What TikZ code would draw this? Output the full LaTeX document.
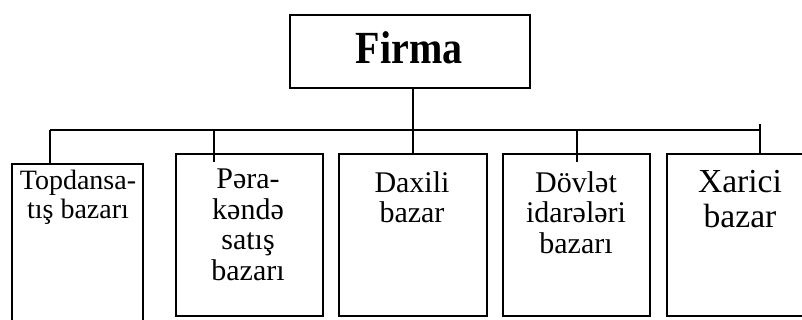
\documentclass[tikz,border=0pt]{standalone}
\usepackage{fontspec}
\setmainfont{Liberation Serif}
\usepackage{tikz}
\usetikzlibrary{positioning}
\tikzset{
  box/.style={draw=black, line width=1.6pt, inner sep=0pt, anchor=north west},
  link/.style={draw=black, line width=1.6pt},
  lab/.style={align=center, inner sep=0pt, anchor=north},
  labs/.style={lab, font=\fontsize{30}{30.5}\selectfont}
}

\begin{document}
\begin{tikzpicture}[x=1pt,y=-1pt]
  \useasboundingbox (0,0) rectangle (802,320);
  \clip (0,0) rectangle (802,320);

  % top box
  \node[box, minimum width=240pt, minimum height=73pt] (firma) at (289,14) {};
  \node[lab, anchor=base, font=\fontsize{40}{40}\selectfont\bfseries] (firmaT) at (409,64)
    {\scalebox{1}[1.15]{Firma}};

  % market boxes
  \node[box, minimum width=131pt, minimum height=180pt] (topdan) at (11,163) {};
  \node[box, minimum width=147pt, minimum height=162pt] (perakende) at (175,153) {};
  \node[box, minimum width=148pt, minimum height=162pt] (daxili) at (338,153) {};
  \node[box, minimum width=147pt, minimum height=162pt] (dovlet) at (502,153) {};
  \node[box, minimum width=148pt, minimum height=162pt] (xarici) at (666,153) {};

  \node[lab, font=\fontsize{28}{29}\selectfont] (topdanT) at (78,170) {Topdansa-\\tış bazarı};
  \node[labs] (perakendeT) at (248,169) {Pəra-\\kəndə\\satış\\bazarı};
  \node[labs] (daxiliT) at (412,171) {Daxili\\bazar};
  \node[labs] (dovletT) at (576,171) {Dövlət\\idarələri\\bazarı};
  \node[lab, font=\fontsize{33.6}{35}\selectfont] (xariciT) at (740,170) {Xarici\\bazar};

  % connectors
  \coordinate (busL) at (50,130);
  \coordinate (busR) at (760,130);
  \coordinate (drop2) at (214,130);
  \coordinate (drop4) at (577,130);
  \coordinate (drop5) at (760,124);
  \draw[link] (busL) -- (busR);
  \draw[link] (daxili.north |- firma.south) -- (daxili.north);
  \draw[link] (busL) -- (busL |- topdan.north);
  \draw[link] (drop2) -- ++(0,32);
  \draw[link] (drop4) -- ++(0,32);
  \draw[link] (drop5) -- ++(0,31);
\end{tikzpicture}
\end{document}
